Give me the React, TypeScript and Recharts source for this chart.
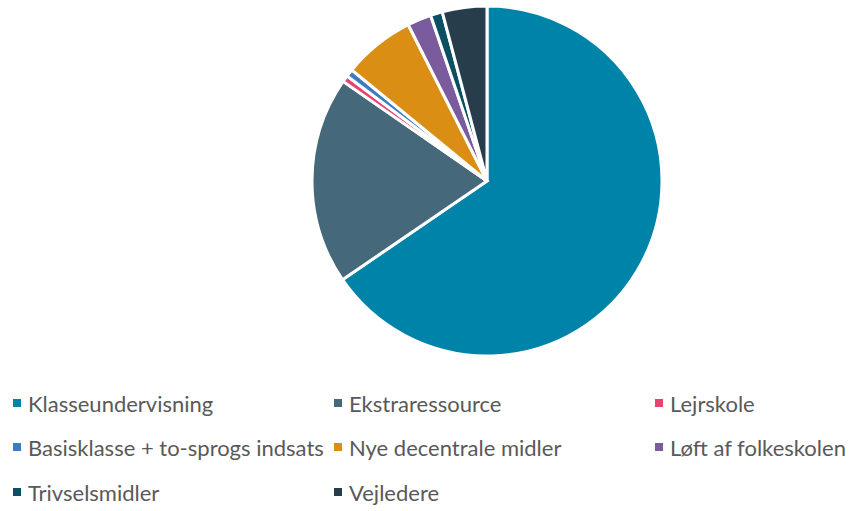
import React from "react";
import { PieChart, Pie, Cell, Legend } from "recharts";

const categories = [
  "Klasseundervisning",
  "Ekstraressource",
  "Lejrskole",
  "Basisklasse + to-sprogs indsats",
  "Nye decentrale midler",
  "Løft af folkeskolen",
  "Trivselsmidler",
  "Vejledere",
];
const values = [65.2, 19.1, 0.6, 0.7, 6.6, 2.2, 1.1, 4.1];
const colors = ["#0083A9", "#45687B", "#E8436E", "#3A7CC4", "#DB8E14", "#7A5B9E", "#0B4F62", "#283D4C"];

const data = categories.map((name, i) => ({ name, value: values[i] }));

const colX = [13, 334, 655];
const rowY = [403, 447, 492];
const legendTop = 385;

const LegendContent = () => (
  <div style={{ position: "relative", width: 856, height: 126 }}>
    {categories.map((name, i) => {
      const col = i % 3;
      const row = Math.floor(i / 3);
      return (
        <div
          key={name}
          style={{
            position: "absolute",
            left: colX[col],
            top: rowY[row] - legendTop - 15,
            height: 30,
            display: "flex",
            alignItems: "center",
            whiteSpace: "nowrap",
            fontFamily: "Lato, sans-serif",
            fontSize: 22,
            color: "#595959",
          }}
        >
          <span style={{ display: "inline-block", width: 8, height: 8, background: colors[i], marginRight: 7 }} />
          <span>{name}</span>
        </div>
      );
    })}
  </div>
);

export default function App() {
  return (
    <>
      <style>{`body{margin:0;overflow:hidden}`}</style>
      <PieChart width={856} height={511} margin={{ top: 0, right: 0, bottom: 0, left: 0 }}>
        <Pie
          data={data}
          dataKey="value"
          nameKey="name"
          cx={487}
          cy={181}
          outerRadius={175}
          startAngle={90}
          endAngle={-270}
          stroke="#ffffff"
          strokeWidth={3}
          isAnimationActive={false}
        >
          {data.map((d, i) => (
            <Cell key={d.name} fill={colors[i]} />
          ))}
        </Pie>
        <Legend
          content={<LegendContent />}
          wrapperStyle={{ position: "absolute", left: 0, top: legendTop, width: 856, height: 126 }}
        />
      </PieChart>
    </>
  );
}
